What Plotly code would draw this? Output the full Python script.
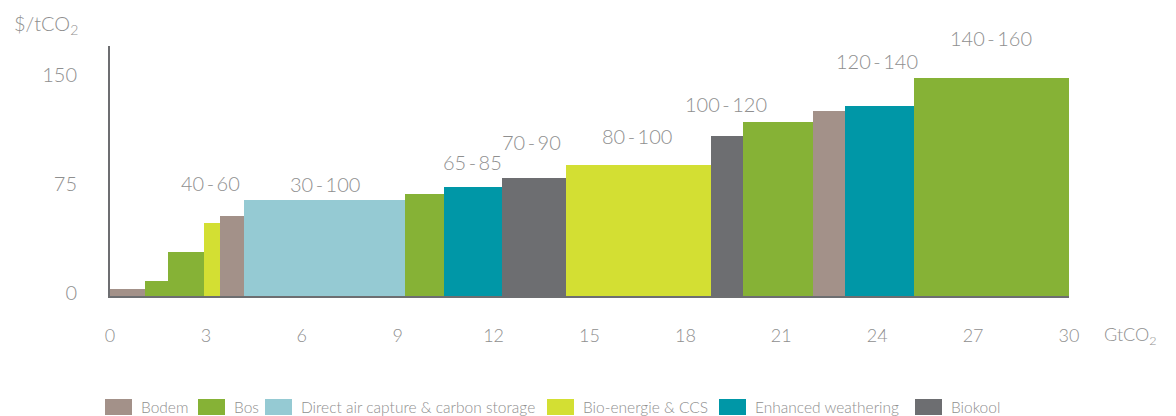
import plotly.graph_objects as go
import numpy as np

# ---- data ----
categories = ["Bodem", "Bos", "Direct air capture & carbon storage", "Bio-energie & CCS",
              "Enhanced weathering", "Biokool"]
colors = {"Bodem": "#a39189", "Bos": "#86b236", "Direct air capture & carbon storage": "#95cad3",
          "Bio-energie & CCS": "#d3df33", "Enhanced weathering": "#0097a7", "Biokool": "#6d6e71"}

bar_category = ["Bodem", "Bos", "Bos", "Bio-energie & CCS", "Bodem",
                "Direct air capture & carbon storage", "Bos", "Enhanced weathering", "Biokool",
                "Bio-energie & CCS", "Biokool", "Bos", "Bodem", "Enhanced weathering", "Bos"]
bar_width_gt = [1.1, 0.7, 1.13, 0.52, 0.75, 5.03, 1.22, 1.81, 2.01, 4.52, 1.02, 2.18, 1.0, 2.16, 4.85]
bar_cost = [5, 10, 30, 50, 55, 66, 70, 75, 81, 90, 110, 120, 127, 131, 150]

range_labels = ["40-60", "30-100", "65-85", "70-90", "80-100", "100-120", "120-140", "140-160"]
range_label_x = [3.13, 6.71, 11.33, 13.2, 16.49, 19.28, 23.98, 27.55]
range_label_y = [78, 77.4, 92, 106, 110, 132, 162, 177.6]

x_ticks = [0, 3, 6, 9, 12, 15, 18, 21, 24, 27, 30]
y_ticks = [0, 75, 150]

# ---- layout constants ----
W, H = 1176, 416
ML, MR, MT, MB = 110, 107, 46, 120
PW, PH = W - ML - MR, H - MT - MB
Y_MAX = 172

def px_x(px):
    return (px - ML) / PW

def px_y(py):
    return (H - MB - py) / PH

FONT = "Lato"
GRAY = "#8f8f8f"
AXIS = "#6d6e71"

# ---- build ----
widths = np.array(bar_width_gt)
starts = np.concatenate([[0], np.cumsum(widths)[:-1]])
centers = starts + widths / 2

fig = go.Figure()
for cat in categories:
    idx = [i for i, c in enumerate(bar_category) if c == cat]
    fig.add_trace(go.Bar(
        x=[centers[i] for i in idx],
        y=[bar_cost[i] for i in idx],
        width=[widths[i] for i in idx],
        name=cat,
        marker=dict(color=colors[cat], line=dict(width=0)),
        hoverinfo="skip",
        showlegend=False,
    ))

for t, x, y in zip(range_labels, range_label_x, range_label_y):
    fig.add_annotation(x=x, xref="x", y=y / Y_MAX, yref="paper",
                       text=t.replace("-", "\u2009-\u2009"), showarrow=False,
                       xanchor="center", yanchor="middle",
                       font=dict(family=FONT, size=20, color=GRAY, weight=300))

fig.add_annotation(xref="paper", yref="paper", x=px_x(12), y=px_y(25), text="$/tCO<sub>2</sub>",
                   showarrow=False, xanchor="left", yanchor="middle",
                   font=dict(family=FONT, size=20, color=GRAY, weight=300))
fig.add_annotation(xref="paper", yref="paper", x=px_x(1102), y=px_y(335), text="GtCO<sub>2</sub>",
                   showarrow=False, xanchor="left", yanchor="middle",
                   font=dict(family=FONT, size=18, color=GRAY, weight=300))

# custom legend (rectangular keys like the reference)
legend_left_px = [105, 198, 265, 547, 719, 915]
for cat, lx in zip(categories, legend_left_px):
    fig.add_shape(type="rect", xref="paper", yref="paper",
                  x0=px_x(lx), x1=px_x(lx + 27), y0=px_y(415), y1=px_y(399),
                  fillcolor=colors[cat], line=dict(width=0), layer="above")
    fig.add_annotation(xref="paper", yref="paper", x=px_x(lx + 34), y=px_y(407), text=cat,
                       showarrow=False, xanchor="left", yanchor="middle",
                       font=dict(family=FONT, size=15.5, color=GRAY, weight=300))

fig.update_layout(
    width=W, height=H,
    margin=dict(l=ML, r=MR, t=MT, b=MB, autoexpand=False),
    paper_bgcolor="white", plot_bgcolor="white",
    barmode="overlay", bargap=0,
    showlegend=False,
    xaxis=dict(range=[0, 30], tickvals=x_ticks, ticktext=[str(v) for v in x_ticks],
               showgrid=False, zeroline=False, showline=True, linecolor=AXIS, linewidth=2,
               ticks="", ticklabelstandoff=22,
               tickfont=dict(family=FONT, size=18, color=GRAY, weight=300)),
    yaxis=dict(range=[0, Y_MAX], tickvals=y_ticks, ticktext=[str(v) for v in y_ticks],
               showgrid=False, zeroline=False, showline=True, linecolor=AXIS, linewidth=2,
               ticks="", ticklabelstandoff=27, ticklabelshift=-3,
               tickfont=dict(family=FONT, size=20, color=GRAY, weight=300)),
)

fig.write_html("out.html")
